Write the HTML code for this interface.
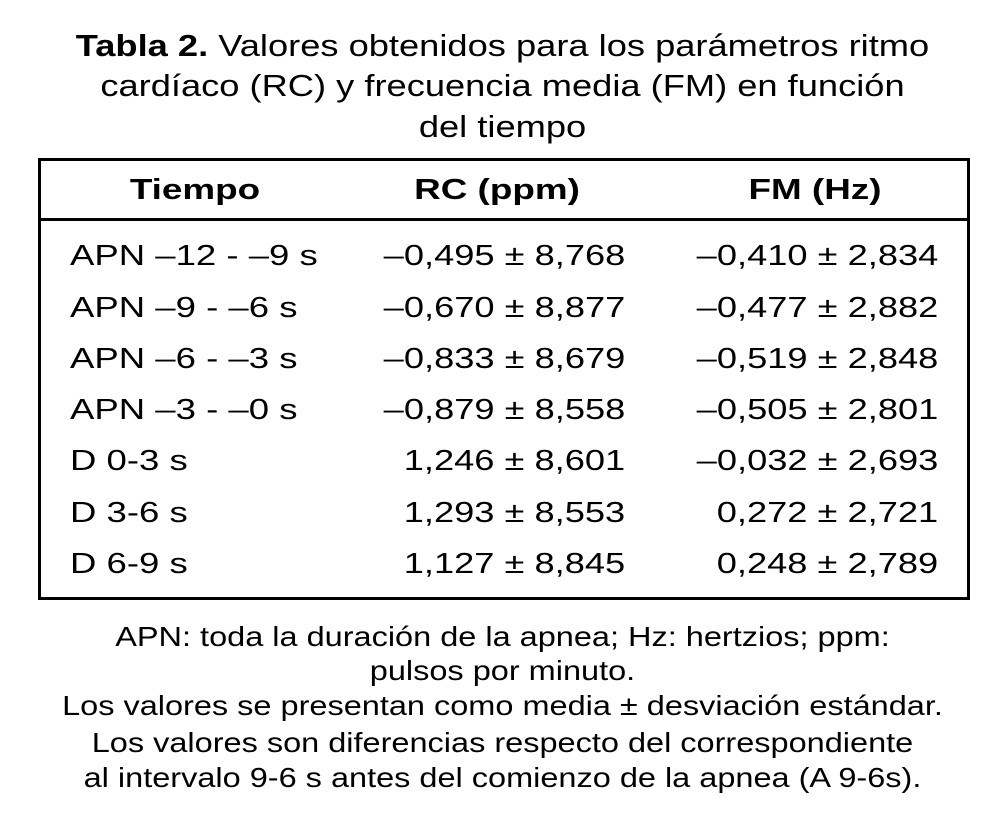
<!DOCTYPE html>
<html><head><meta charset="utf-8"><style>
body{margin:0;width:991px;height:818px;background:#fff;position:relative;font-family:"Liberation Sans",Arial,sans-serif;color:#000;overflow:hidden}
.l{position:absolute;line-height:1;white-space:nowrap}
.c{left:7px;width:991px;text-align:center}
.t{font-size:31px;transform:scaleX(1.17);transform-origin:center}
.f{font-size:28px;transform:scaleX(1.16);transform-origin:center}
.r{font-size:29px}
.h{font-size:29px;font-weight:bold;transform:scaleX(1.27);transform-origin:center}
.a{left:70px;transform:scaleX(1.26);transform-origin:left}
.b{right:366px;text-align:right;transform:scaleX(1.25);transform-origin:right}
.d{right:53px;text-align:right;transform:scaleX(1.25);transform-origin:right}
</style></head><body>
<div class="l c t" style="top:30px"><b>Tabla 2.</b> Valores obtenidos para los parámetros ritmo</div>
<div class="l c t" style="top:70px">cardíaco (RC) y frecuencia media (FM) en función</div>
<div class="l c t" style="top:111px">del tiempo</div>
<div style="position:absolute;left:38px;top:158px;width:926px;height:436px;border:3px solid #000"></div>
<div style="position:absolute;left:38px;top:218px;width:932px;height:3px;background:#000"></div>
<div class="l h" style="top:176px;left:95px;width:200px;text-align:center">Tiempo</div>
<div class="l h" style="top:176px;left:397px;width:200px;text-align:center">RC (ppm)</div>
<div class="l h" style="top:176px;left:715px;width:200px;text-align:center">FM (Hz)</div>

<div class="l r a" style="top:242px">APN –12 - –9 s</div><div class="l r b" style="top:242px">–0,495 ± 8,768</div><div class="l r d" style="top:242px">–0,410 ± 2,834</div>
<div class="l r a" style="top:294px">APN –9 - –6 s</div><div class="l r b" style="top:294px">–0,670 ± 8,877</div><div class="l r d" style="top:294px">–0,477 ± 2,882</div>
<div class="l r a" style="top:345px">APN –6 - –3 s</div><div class="l r b" style="top:345px">–0,833 ± 8,679</div><div class="l r d" style="top:345px">–0,519 ± 2,848</div>
<div class="l r a" style="top:396px">APN –3 - –0 s</div><div class="l r b" style="top:396px">–0,879 ± 8,558</div><div class="l r d" style="top:396px">–0,505 ± 2,801</div>
<div class="l r a" style="top:447px">D 0-3 s</div><div class="l r b" style="top:447px">1,246 ± 8,601</div><div class="l r d" style="top:447px">–0,032 ± 2,693</div>
<div class="l r a" style="top:499px">D 3-6 s</div><div class="l r b" style="top:499px">1,293 ± 8,553</div><div class="l r d" style="top:499px">0,272 ± 2,721</div>
<div class="l r a" style="top:550px">D 6-9 s</div><div class="l r b" style="top:550px">1,127 ± 8,845</div><div class="l r d" style="top:550px">0,248 ± 2,789</div>

<div class="l c f" style="top:623px">APN: toda la duración de la apnea; Hz: hertzios; ppm:</div>
<div class="l c f" style="top:657px">pulsos por minuto.</div>
<div class="l c f" style="top:692px">Los valores se presentan como media ± desviación estándar.</div>
<div class="l c f" style="top:729px">Los valores son diferencias respecto del correspondiente</div>
<div class="l c f" style="top:764px">al intervalo 9-6 s antes del comienzo de la apnea (A 9-6s).</div>
</body></html>
